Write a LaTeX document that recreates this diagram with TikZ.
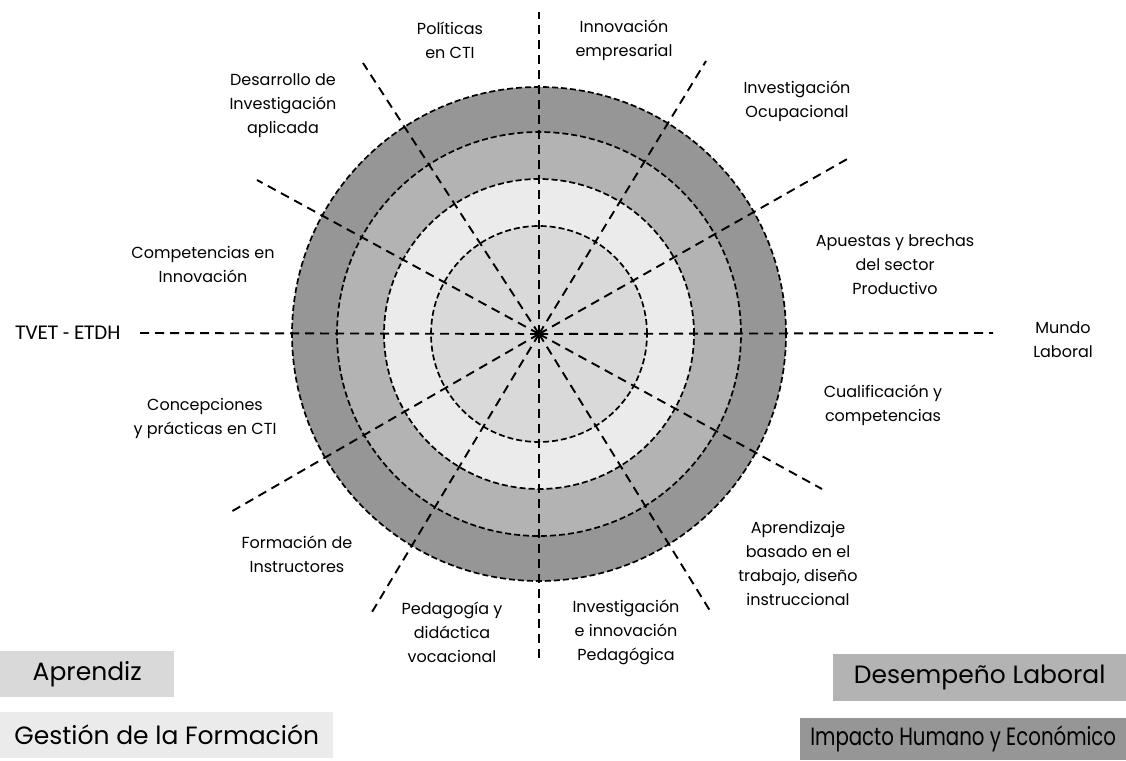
\documentclass[tikz,border=0pt]{standalone}
\usepackage{fontspec}
\usetikzlibrary{calc}
\setmainfont{Poppins}
\newfontfamily\headfont{Carlito}
\definecolor{ringout}{HTML}{969696}
\definecolor{ringthree}{HTML}{B3B3B3}
\definecolor{ringtwo}{HTML}{EBEBEB}
\definecolor{ringin}{HTML}{D9D9D9}
\begin{document}
\begin{tikzpicture}[x=1pt,y=1pt,
  lbl/.style={align=center,inner sep=0pt,font=\fontsize{16}{24}\selectfont},
  headlbl/.style={align=center,inner sep=0pt,font=\headfont\fontsize{21}{24}\selectfont},
  ringline/.style={draw=black,line width=1.7pt,dash pattern=on 6pt off 3pt},
  spoke/.style={draw=black,line width=1.9pt,dash pattern=on 9pt off 6pt},
  legendbox/.style={anchor=south west,inner sep=0pt,font=\fontsize{25}{30}\selectfont}
]
\useasboundingbox (0,0) rectangle (1126,760);

% centre of the wheel
\coordinate (c) at (539,426);

% filled rings, outermost first
\fill[ringout]   (c) circle (247);
\fill[ringthree] (c) circle (202);
\fill[ringtwo]   (c) circle (155);
\fill[ringin]    (c) circle (108);

% dashed ring outlines
\foreach \r in {247,202,155,108}
  \draw[ringline] (c) circle (\r);

% outer ends of the twelve spokes
\coordinate (s0)   at (993,427);
\coordinate (s30)  at (849,602);
\coordinate (s60)  at (706,699);
\coordinate (s90)  at (539,748);
\coordinate (s120) at (363,697);
\coordinate (s150) at (257,580);
\coordinate (s180) at (140,427);
\coordinate (s210) at (229,247);
\coordinate (s240) at (372,148);
\coordinate (s270) at (539,100);
\coordinate (s300) at (712,146);
\coordinate (s330) at (822,271);

\foreach \a in {0,30,...,330}
  \draw[spoke] (c) -- (s\a);

% labels around the wheel
\node[lbl] (pol)  at (450,720) {Políticas\\en CTI};
\node[lbl] (inn)  at (624,720) {Innovación\\empresarial};
\node[lbl] (des)  at (283,654) {Desarrollo de\\Investigación\\aplicada};
\node[lbl] (ocu)  at (797,659) {Investigación\\Ocupacional};
\node[lbl] (com)  at (203,496) {Competencias en\\Innovación};
\node[lbl] (apu)  at (895,495) {Apuestas y brechas\\del sector\\Productivo};
\node[headlbl] (tvet) at (68,427) {TVET - ETDH};
\node[lbl] (mun)  at (1063,420) {Mundo\\Laboral};
\node[lbl] (con)  at (205,342) {Concepciones\\y prácticas en CTI};
\node[lbl] (cua)  at (883,355) {Cualificación y\\competencias};
\node[lbl] (for)  at (297,206) {Formación de\\Instructores};
\node[lbl] (apr)  at (798,197) {Aprendizaje\\basado en el\\trabajo, diseño\\instruccional};
\node[lbl] (ped)  at (452,128) {Pedagogía y\\didáctica\\vocacional};
\node[lbl] (ipe)  at (626,128) {Investigación\\e innovación\\Pedagógica};

% legend
\node[legendbox,fill=ringin,minimum width=174pt,minimum height=46pt] (lgap) at (0,63) {Aprendiz};
\node[legendbox,fill=ringtwo,minimum width=333pt,minimum height=46pt] (lgge) at (0,2) {Gestión de la Formación};
\node[legendbox,fill=ringthree,minimum width=293pt,minimum height=47pt] (lgde) at (833,59) {Desempeño Laboral};
\node[legendbox,fill=ringout,minimum width=326pt,minimum height=42pt] (lgim) at (800,0) {\scalebox{0.79}[1]{Impacto Humano y Económico}};
\end{tikzpicture}
\end{document}
